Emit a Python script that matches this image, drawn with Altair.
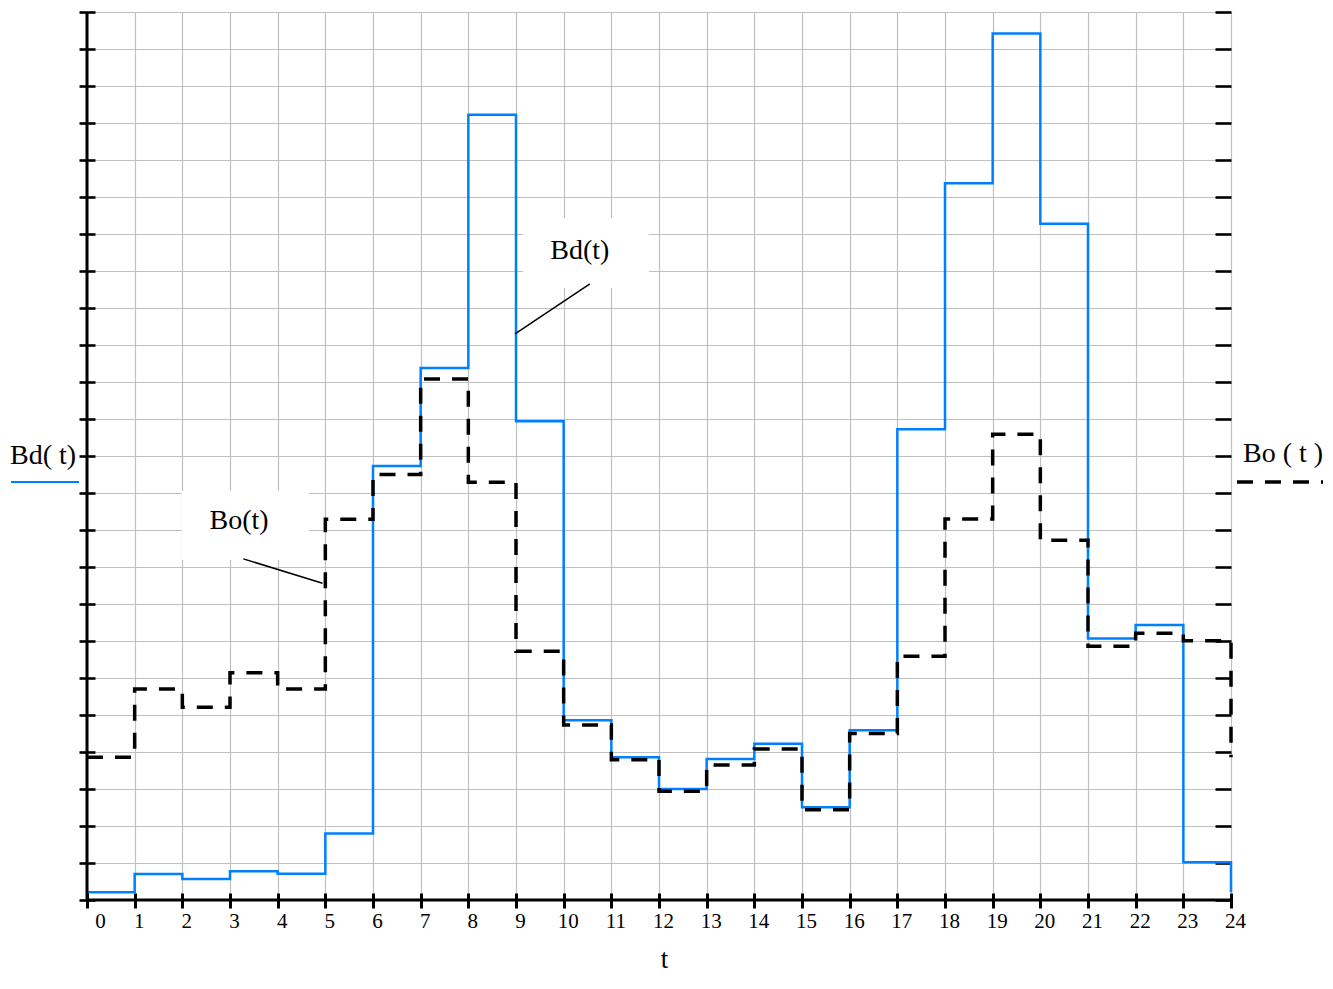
import altair as alt
import pandas as pd

# ---- data ----
hours = list(range(25))
bd_values = [0.21, 0.70, 0.57, 0.78, 0.71, 1.80, 11.73, 14.38, 21.22, 12.94,
             4.86, 3.86, 3.00, 3.81, 4.22, 2.51, 4.59, 12.72, 19.37, 23.42,
             18.28, 7.07, 7.43, 1.02, 0.21]
bo_values = [3.86, 5.70, 5.21, 6.14, 5.70, 10.29, 11.50, 14.08, 11.29, 6.72,
             4.73, 3.79, 2.94, 3.65, 4.08, 2.44, 4.50, 6.59, 10.30, 12.59,
             9.72, 6.86, 7.21, 7.01, 3.86]
x_ticks = list(range(25))
y_ticks = list(range(25))

# annotation labels (positions in data units)
ann_labels = ["Bd(t)", "Bo(t)"]
ann_x = [10.34, 3.19]
ann_y = [17.55, 10.24]
box_x = [9.15, 1.99]
box_x2 = [11.79, 4.66]
box_y = [18.43, 11.06]
box_y2 = [16.54, 9.19]
lead_x = [10.55, 3.28]
lead_x2 = [8.98, 4.94]
lead_y = [16.65, 9.22]
lead_y2 = [15.30, 8.56]

FONT = "Liberation Serif"
GRID = "#c0c0c0"
BLUE = "#0080ff"

df = pd.DataFrame({"t": hours, "Bd": bd_values, "Bo": bo_values})
ann = pd.DataFrame({"label": ann_labels, "x": ann_x, "y": ann_y,
                    "bx": box_x, "bx2": box_x2, "by": box_y, "by2": box_y2,
                    "lx": lead_x, "lx2": lead_x2, "ly": lead_y, "ly2": lead_y2})
one = pd.DataFrame({"k": [0]})

xscale = alt.Scale(domain=[0, 24], nice=False, zero=False)
yscale = alt.Scale(domain=[0, 24], nice=False, zero=False)

x_axis = alt.Axis(
    values=x_ticks, title="t", grid=True, gridColor=GRID, gridWidth=1.2,
    domain=False, ticks=True, tickSize=15, tickWidth=3, tickColor="black",
    offset=-7, labelFont=FONT, labelFontSize=21, labelColor="black",
    labelPadding=2, labelAlign="center",
    labelOffset={"condition": {"test": "datum.value === 0", "value": 13}, "value": 4},
    titleFont=FONT, titleFontSize=27, titleFontWeight="normal", titleColor="black",
    titlePadding=15, titleX=577,
)
y_axis_left = alt.Axis(
    orient="left", values=y_ticks, title=None, labels=False, grid=True,
    gridColor=GRID, gridWidth=1.2, domain=False, ticks=True, tickSize=16,
    tickWidth=2.6, tickColor="black", offset=-8,
)
y_axis_right = alt.Axis(
    orient="right", values=y_ticks, title=None, labels=False, grid=False,
    domain=False, ticks=True, tickSize=16, tickWidth=2.6, tickColor="black",
    offset=-16,
)

X = lambda f: alt.X(f, type="quantitative", scale=xscale, axis=x_axis)
Y = lambda f: alt.Y(f, type="quantitative", scale=yscale, axis=None)

bd_line = alt.Chart(df).mark_line(
    interpolate="step-after", color=BLUE, strokeWidth=2.5
).encode(x=X("t"), y=alt.Y("Bd:Q", scale=yscale, axis=y_axis_left))

bo_line = alt.Chart(df).mark_line(
    interpolate="step-after", color="black", strokeWidth=3.5, strokeDash=[16, 12]
).encode(x=X("t"), y=alt.Y("Bo:Q", scale=yscale, axis=y_axis_right))

boxes = alt.Chart(ann).mark_rect(color="white").encode(
    x=X("bx"), x2="bx2", y=Y("by"), y2="by2")

leaders = alt.Chart(ann).mark_rule(color="black", strokeWidth=1.5).encode(
    x=X("lx"), x2="lx2", y=Y("ly"), y2="ly2")

ann_text = alt.Chart(ann).mark_text(
    font=FONT, fontSize=28, color="black", align="center", baseline="middle"
).encode(x=X("x"), y=Y("y"), text="label")

base_line = alt.Chart(pd.DataFrame({"v": [0]})).mark_rule(
    color="black", strokeWidth=3).encode(y=Y("v"))
left_line = alt.Chart(pd.DataFrame({"v": [0]})).mark_rule(
    color="black", strokeWidth=3).encode(x=X("v"))

# legend-like labels outside the plot
bd_key_text = alt.Chart(one).mark_text(
    text="Bd( t)", font=FONT, fontSize=28, color="black", align="left", baseline="middle"
).encode(x=alt.value(-77), y=alt.value(444))
bd_key_line = alt.Chart(one).mark_rule(color=BLUE, strokeWidth=2).encode(
    x=alt.value(-76), x2=alt.value(-8), y=alt.value(470))
bo_key_text = alt.Chart(one).mark_text(
    text="Bo ( t )", font=FONT, fontSize=28, color="black", align="left", baseline="middle"
).encode(x=alt.value(1156), y=alt.value(442))
bo_key_line = alt.Chart(one).mark_rule(
    color="black", strokeWidth=3.5, strokeDash=[16, 12]).encode(
    x=alt.value(1150), x2=alt.value(1236), y=alt.value(470))

chart = alt.layer(
    bd_line, bo_line, boxes, leaders, ann_text, base_line, left_line,
    bd_key_text, bd_key_line, bo_key_text, bo_key_line,
).resolve_axis(y="independent").properties(
    width=1144, height=888,
    autosize=alt.AutoSizeParams(type="none"),
    padding={"left": 79, "top": 4, "right": 92, "bottom": 76},
).configure_view(stroke=None).configure(background="white")

chart.save("out.html", embed_options={"renderer": "svg", "actions": False})
